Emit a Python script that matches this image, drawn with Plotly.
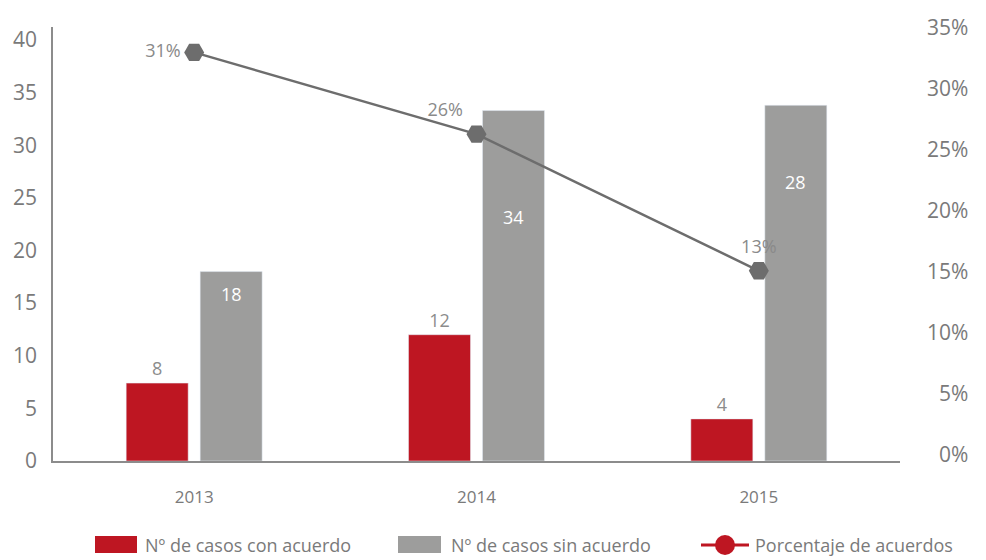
import plotly.graph_objects as go

years = ["2013", "2014", "2015"]
con_acuerdo = [7.4, 12.0, 4.0]
con_acuerdo_labels = ["8", "12", "4"]
sin_acuerdo = [18.0, 33.3, 33.8]
sin_acuerdo_labels = ["18", "34", "28"]
sin_acuerdo_label_y = [15.9, 23.2, 26.5]
porcentaje = [0.330, 0.263, 0.151]
porcentaje_labels = ["31%", "26%", "13%"]
porcentaje_label_pos = ["middle left", "top left", "top center"]

left_ticks = [0, 5, 10, 15, 20, 25, 30, 35, 40]
right_ticks = [0, 0.05, 0.10, 0.15, 0.20, 0.25, 0.30, 0.35]
right_ticktext = ["\u20070%", "\u20075%", "10%", "15%", "20%", "25%", "30%", "35%"]

series_names = ["Nº de casos con acuerdo", "Nº de casos sin acuerdo", "Porcentaje de acuerdos"]

RED = "#be1622"
GRAY = "#9d9d9c"
LINE = "#6d6d6d"
TEXT = "#7a7a7a"
FONT = "Open Sans"

# the page body has an 8px margin, so the figure is drawn 8px smaller
OFF = 8
FIG_W, FIG_H = 986 - OFF, 560 - OFF
# plot area in page pixels
L, R, T, B = 53, 900, 27, 461
W, H = R - L, B - T


def px(x):
    return (x - L) / W


def py(y):
    return (B - y) / H


fig = go.Figure()
fig.add_trace(go.Bar(
    x=years, y=con_acuerdo,
    name=series_names[0],
    marker=dict(color=RED),
    text=con_acuerdo_labels, textposition="outside",
    textfont=dict(color="#8c8c8c", size=18, family=FONT),
    cliponaxis=False,
))
fig.add_trace(go.Bar(
    x=years, y=sin_acuerdo,
    name=series_names[1],
    marker=dict(color=GRAY),
))
fig.add_trace(go.Scatter(
    x=years, y=porcentaje,
    yaxis="y2",
    name=series_names[2],
    mode="lines+markers+text",
    line=dict(color=LINE, width=2.5),
    marker=dict(symbol="hexagon2", size=20, color=LINE),
    text=porcentaje_labels, textposition=porcentaje_label_pos,
    textfont=dict(color="#8a8a8a", size=18, family=FONT),
    cliponaxis=False,
))

# labels inside the grey bars (category index so the axis keeps its range)
for i, (lab, ly) in enumerate(zip(sin_acuerdo_labels, sin_acuerdo_label_y)):
    fig.add_annotation(
        x=i, y=ly, text=lab, showarrow=False, xshift=37,
        font=dict(color="white", size=18, family=FONT),
    )

# legend, drawn by hand to get the wide swatches of the original
legend_font = dict(size=18, color=TEXT, family=FONT)
fig.add_shape(type="rect", xref="paper", yref="paper",
              x0=px(95), x1=px(137), y0=py(553), y1=py(536),
              fillcolor=RED, line=dict(width=0))
fig.add_shape(type="rect", xref="paper", yref="paper",
              x0=px(398), x1=px(441), y0=py(553), y1=py(536),
              fillcolor=GRAY, line=dict(width=0))
fig.add_shape(type="line", xref="paper", yref="paper",
              x0=px(701), x1=px(749), y0=py(545), y1=py(545),
              line=dict(color=RED, width=3))
fig.add_shape(type="circle", xref="paper", yref="paper",
              x0=px(715), x1=px(735), y0=py(555), y1=py(535),
              fillcolor=RED, line=dict(width=0))
for name, tx in zip(series_names, [143, 449, 753]):
    fig.add_annotation(
        xref="paper", yref="paper", x=px(tx), y=py(545),
        xanchor="left", yanchor="middle", text=name,
        showarrow=False, font=legend_font,
    )

fig.update_layout(
    width=FIG_W, height=FIG_H,
    margin=dict(l=L - OFF, r=FIG_W - (R - OFF), t=T - OFF,
                b=FIG_H - (B - OFF), autoexpand=False),
    plot_bgcolor="white", paper_bgcolor="white",
    barmode="group", bargap=0.476, bargroupgap=0.162,
    font=dict(family=FONT, color=TEXT, size=18),
    showlegend=False,
    xaxis=dict(
        type="category", automargin=False,
        showline=True, linecolor="#8c8c8c", linewidth=2,
        showgrid=False, ticks="", tickfont=dict(size=17),
        ticklabelstandoff=20,
    ),
    yaxis=dict(
        range=[0, 41.24], tickvals=left_ticks, automargin=False,
        showline=True, linecolor="#8c8c8c", linewidth=1.5,
        showgrid=False, zeroline=False, ticks="",
        tickfont=dict(size=21), ticklabelstandoff=10,
    ),
    yaxis2=dict(
        overlaying="y", side="right", automargin=False,
        range=[-0.0049, 0.3508],
        tickvals=right_ticks, ticktext=right_ticktext,
        showline=False, showgrid=False, zeroline=False, ticks="",
        tickfont=dict(size=21), ticklabelstandoff=26,
    ),
)

fig.write_html("out.html")
